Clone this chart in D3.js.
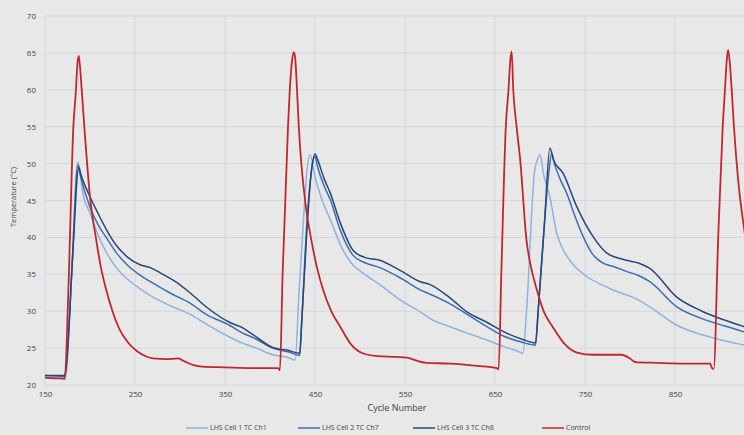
<!DOCTYPE html>
<html>
<head>
<meta charset="utf-8">
<script src="https://cdn.jsdelivr.net/npm/d3@7"></script>
<style>
  body { margin: 0; background: #e8e8e8; }
  svg { display: block; }
</style>
</head>
<body>
<div id="chart"></div>
<script>
// data: [cycle, temperature]
var cell1 = [[150,21.0],[165,20.9],[172,20.7],[174,22],[180,36],[186.5,50.2],[188,49.5],[192,46],[200,43.3],[210,40],
  [218.5,37.9],[230,35.8],[242,34.3],[255,33.1],[270,31.9],[290,30.7],[311,29.6],[330,28.2],[355,26.5],[367,25.8],
  [385,25.0],[403,24.1],[418,23.8],[428,23.4],[432,32],[437,42],[441,49],[444.5,51.2],[450,48.2],[458,45],
  [467,42.4],[481,38.3],[492,36.3],[503,35.2],[522,33.6],[545,31.5],[567,29.9],[578,29.0],[600,27.9],[620,27.0],
  [641,26.1],[660,25.2],[675,24.6],[681,24.3],[685,30],[694,49],[697,50.5],[700,51.2],[704,48.5],[711,45.5],
  [718.5,40.6],[725,38.5],[733,36.9],[752,34.7],[770,33.5],[789,32.5],[803,31.9],[822,30.6],[852,28.1],[880,26.8],
  [905,26.0],[927,25.4],[940,25.0]];

var cell2 = [[150,21.3],[172,21.2],[174,23],[180,36],[186.5,49.8],[189,48.5],[200,44.1],[210,41.5],[218.5,39.9],[230,37.8],
  [242,36.2],[255.5,34.9],[270,33.8],[290,32.4],[311,31.1],[330,29.5],[355,28.1],[367,27.2],[385,26.2],[403,25.0],
  [420,24.5],[433,24.0],[435,28],[441,42],[446,49],[450,51.0],[453,49.5],[460,47],[467,45.1],[478,41],
  [492,37.6],[505,36.6],[522,35.9],[545,34.5],[567,32.9],[578,32.3],[600,31.0],[620,29.5],[641,27.9],[660,26.6],
  [680,25.8],[695,25.4],[698,30],[705,42],[710,49],[713,51.4],[716,50],[722,48],[729.6,46],[740,42.5],
  [748,40.1],[758,37.8],[770,36.5],[783,36],[796,35.4],[810,34.8],[822,34.0],[852,30.6],[880,29.0],[905,28.0],
  [927,27.2],[940,26.8]];

var cell3 = [[150,21.3],[172,21.3],[174,23],[181,38],[187.5,49.5],[190,48.5],[200,45.5],[210,43],[218.5,41.0],[230,38.8],
  [242,37.3],[255.5,36.3],[267,35.9],[278,35.2],[295,34],[311,32.5],[330,30.5],[355,28.5],[367,27.9],[385,26.5],
  [403,25.1],[420,24.7],[433,24.3],[435,28],[441,41],[446,49],[450,51.3],[453,50.5],[460,48],[467,46.0],
  [478,42],[492,38.3],[505,37.3],[522,36.9],[545,35.5],[567,34.0],[578,33.6],[600,31.8],[620,29.8],[641,28.5],
  [660,27.2],[680,26.2],[695,25.7],[698,30.2],[705,42],[711,52.1],[715,50.5],[725.6,48.7],[740.7,44.2],[759,40.1],
  [774,37.9],[796,36.9],[810,36.5],[822,35.8],[852,31.9],[880,30.0],[905,28.8],[927,27.9],[940,27.4]];

var control = [[150,21.0],[160,20.9],[172,20.9],[176,33],[181.5,55],[184.4,60],[186,63.5],[187.5,64.6],[189,63],[190.8,60],
  [193.7,55],[200,45.5],[207,39.6],[212,36],[218,32.9],[225,30],[233,27.5],[242,25.8],[252,24.6],[262,23.9],
  [270,23.6],[285,23.5],[298,23.6],[305,23.2],[315,22.7],[325,22.5],[350,22.4],[380,22.3],[409,22.3],[411,22.0],
  [414,35],[420,55],[422,60],[424.5,64],[426.5,65.1],[428,64.3],[430,60],[432,55],[440,44],[446,39.6],
  [452,36],[459,32.9],[468,30],[478,27.9],[490,25.5],[503,24.3],[520,23.9],[540,23.8],[552,23.7],[563,23.3],
  [574,23.0],[600,22.9],[630,22.6],[652,22.3],[654,22.1],[657,35],[662,55],[665,60],[667,64],[668.5,65.2],
  [670.3,60],[674,55],[678,50.5],[685,39.6],[690,36],[696.5,32.9],[704,30],[714,27.9],[727,25.6],[741,24.4],
  [760,24.1],[790,24.1],[800,23.6],[806,23.1],[830,23.0],[860,22.9],[889,22.9],[891,22.3],[893,22.2],[898,40],
  [903,55],[905.5,60],[907.5,64],[909,65.4],[911,63.5],[913,60],[915.5,55],[920,48],[927,41],[935,35]];

var series = [
  { name: "LHS Cell 1 TC Ch1", values: cell1, color: "#8db3df" },
  { name: "LHS Cell 2 TC Ch7", values: cell2, color: "#3b6fb3" },
  { name: "LHS Cell 3 TC Ch8", values: cell3, color: "#2b4673" },
  { name: "Control", values: control, color: "#c1272d" }
];

var xTicks = [150, 250, 350, 450, 550, 650, 750, 850];
var yTicks = [20, 25, 30, 35, 40, 45, 50, 55, 60, 65, 70];

var width = 744, height = 435;

var svg = d3.select("#chart")
    .append("svg")
    .attr("width", width)
    .attr("height", height)
    .style("font-family", "'Open Sans', sans-serif");

svg.append("rect")
    .attr("width", width)
    .attr("height", height)
    .attr("fill", "#e8e8e8");

var x = d3.scaleLinear().domain([150, 950]).range([45, 765]);
var y = d3.scaleLinear().domain([20, 70]).range([385, 16]);

// grid
svg.append("g")
    .selectAll("line.h")
    .data(yTicks)
    .enter()
    .append("line")
    .attr("x1", x(150))
    .attr("x2", width)
    .attr("y1", function(d) { return y(d); })
    .attr("y2", function(d) { return y(d); })
    .attr("stroke", "#d4d8dc")
    .attr("stroke-width", 1);

svg.append("g")
    .selectAll("line.v")
    .data(xTicks)
    .enter()
    .append("line")
    .attr("x1", function(d) { return x(d); })
    .attr("x2", function(d) { return x(d); })
    .attr("y1", y(70))
    .attr("y2", y(20))
    .attr("stroke", "#d1d7df")
    .attr("stroke-width", 1);

// axes
var xAxis = svg.append("g")
    .attr("transform", "translate(0," + y(20) + ")")
    .call(d3.axisBottom(x).tickValues(xTicks).tickSize(0).tickPadding(6));
var yAxis = svg.append("g")
    .attr("transform", "translate(" + x(150) + ",0)")
    .call(d3.axisLeft(y).tickValues(yTicks).tickSize(0).tickPadding(9));

[xAxis, yAxis].forEach(function(a) {
    a.select(".domain").remove();
    a.selectAll("text")
        .attr("fill", "#444")
        .style("font-size", "8px")
        .style("font-family", "'Open Sans', sans-serif");
});

svg.append("text")
    .attr("x", 397)
    .attr("y", 411)
    .attr("text-anchor", "middle")
    .attr("fill", "#444")
    .style("font-size", "9px")
    .text("Cycle Number");

svg.append("text")
    .attr("transform", "translate(16,197) rotate(-90)")
    .attr("text-anchor", "middle")
    .attr("fill", "#444")
    .style("font-size", "7.5px")
    .text("Temperature (°C)");

// lines
var line = d3.line()
    .curve(d3.curveMonotoneX)
    .x(function(d) { return x(d[0]); })
    .y(function(d) { return y(d[1]); });

svg.append("g")
    .selectAll("path")
    .data(series)
    .enter()
    .append("path")
    .attr("d", function(d) { return line(d.values); })
    .attr("fill", "none")
    .attr("stroke", function(d) { return d.color; })
    .attr("stroke-width", function(d) { return d.name == "Control" ? 1.8 : 1.5; })
    .attr("stroke-linejoin", "round");

// legend
var legendX = [186, 298, 413, 542];
var legend = svg.append("g")
    .selectAll("g")
    .data(series)
    .enter()
    .append("g")
    .attr("transform", function(d, i) { return "translate(" + legendX[i] + ",428)"; });

legend.append("line")
    .attr("x1", 0)
    .attr("x2", 22)
    .attr("stroke", function(d) { return d.color; })
    .attr("stroke-width", 1.5);

legend.append("text")
    .attr("x", 24)
    .attr("dy", "0.35em")
    .attr("fill", "#444")
    .style("font-size", "7px")
    .text(function(d) { return d.name; });
</script>
</body>
</html>
